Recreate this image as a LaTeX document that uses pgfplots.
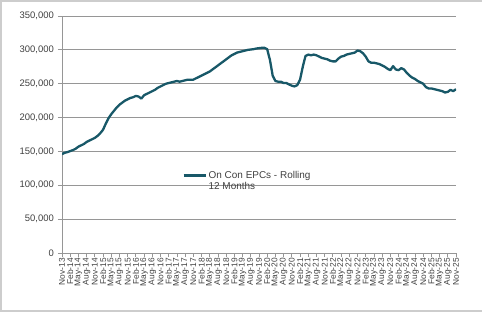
\documentclass[border=0pt]{standalone}
\usepackage{fontspec}
\setmainfont{Liberation Sans}
\usepackage{pgfplots}
\usepackage{pgfplotstable}
\pgfplotsset{compat=1.18}
\definecolor{linec}{RGB}{24,88,104}
\definecolor{txt}{RGB}{64,64,64}
\definecolor{gridc}{RGB}{150,150,150}
\definecolor{framec}{RGB}{205,205,205}
\pgfplotstableread{
m v
0 146000
1 148000
2 149000
3 150500
4 152000
5 154000
6 157000
7 159000
8 161000
9 164000
10 166000
11 168000
12 170000
13 173000
14 177000
15 182000
16 191000
17 199000
18 205000
19 210000
20 215000
21 219000
22 222000
23 225000
24 227000
25 229000
26 230000
27 232000
28 231000
29 228000
30 233000
31 235000
32 237000
33 239000
34 241000
35 244000
36 246000
37 248000
38 250000
39 251000
40 252000
41 253000
42 254000
43 253000
44 254000
45 255000
46 256000
47 256000
48 256000
49 258000
50 260000
51 262000
52 264000
53 266000
54 268000
55 271000
56 274000
57 277000
58 280000
59 283000
60 286000
61 289000
62 292000
63 294000
64 296000
65 297000
66 298000
67 299000
68 300000
69 300500
70 301000
71 302000
72 302500
73 303000
74 303000
75 301000
76 285000
77 262000
78 254000
79 253000
80 253000
81 251000
82 251000
83 249000
84 247000
85 246000
86 248000
87 256000
88 275000
89 291000
90 293000
91 292000
92 293000
93 292000
94 290000
95 288000
96 287000
97 286000
98 284000
99 283000
100 283000
101 287000
102 290000
103 291000
104 293000
105 294000
106 295000
107 296000
108 299000
109 298000
110 295000
111 290000
112 283000
113 281000
114 281000
115 280000
116 279000
117 277000
118 275000
119 272000
120 270000
121 276000
122 271000
123 270000
124 273000
125 271000
126 266000
127 262000
128 259000
129 257000
130 254000
131 252000
132 250000
133 245000
134 243000
135 243000
136 242000
137 241000
138 240000
139 239000
140 237000
141 238000
142 241000
143 239000
144 242000
}\datatable
\begin{document}
\begin{tikzpicture}
\useasboundingbox (-62bp,-62bp) rectangle (420bp,253bp);
\draw[framec, line width=1.5bp] (420bp,-58bp) -- (-61bp,-58bp) -- (-61bp,252bp) -- (420bp,252bp);
\begin{axis}[
  at={(0,0)}, anchor=south west,
  scale only axis, width=394bp, height=237bp,
  xmin=0, xmax=144, ymin=0, ymax=350000,
  ytick={0,50000,100000,150000,200000,250000,300000,350000},
  yticklabels={0,{50,000},{100,000},{150,000},{200,000},{250,000},{300,000},{350,000}},
  scaled y ticks=false,
  ymajorgrids, grid style={gridc, line width=1bp},
  axis lines*=left, axis line style={gridc, line width=1bp},
  tick style={gridc, line width=0.8bp}, tick align=outside, major tick length=4bp,
  xtick={0,3,...,144},
  xticklabels={Nov-13,Feb-14,May-14,Aug-14,Nov-14,Feb-15,May-15,Aug-15,Nov-15,Feb-16,May-16,Aug-16,Nov-16,Feb-17,May-17,Aug-17,Nov-17,Feb-18,May-18,Aug-18,Nov-18,Feb-19,May-19,Aug-19,Nov-19,Feb-20,May-20,Aug-20,Nov-20,Feb-21,May-21,Aug-21,Nov-21,Feb-22,May-22,Aug-22,Nov-22,Feb-23,May-23,Aug-23,Nov-23,Feb-24,May-24,Aug-24,Nov-24,Feb-25,May-25,Aug-25,Nov-25},
  x tick label style={rotate=90, anchor=east, font=\fontsize{8.4}{8.4}\selectfont, color=txt, inner sep=1bp},
  y tick label style={font=\fontsize{9.5}{10}\selectfont, color=txt, inner sep=1bp, xshift=-3bp},
  legend style={at={(0.305,0.355)}, anchor=north west, draw=none, fill=none,
    font=\fontsize{10}{11}\selectfont, text=txt, inner sep=0pt},
  legend cell align=left,
  legend image code/.code={\draw[#1] (0bp,0bp) -- (22bp,0bp);},
]
\addplot[linec, line width=2.3bp, line join=round] table[x=m, y=v] {\datatable};
\addlegendentry{\parbox[t]{130bp}{On Con EPCs - Rolling\\12 Months}}
\end{axis}
\end{tikzpicture}
\end{document}
